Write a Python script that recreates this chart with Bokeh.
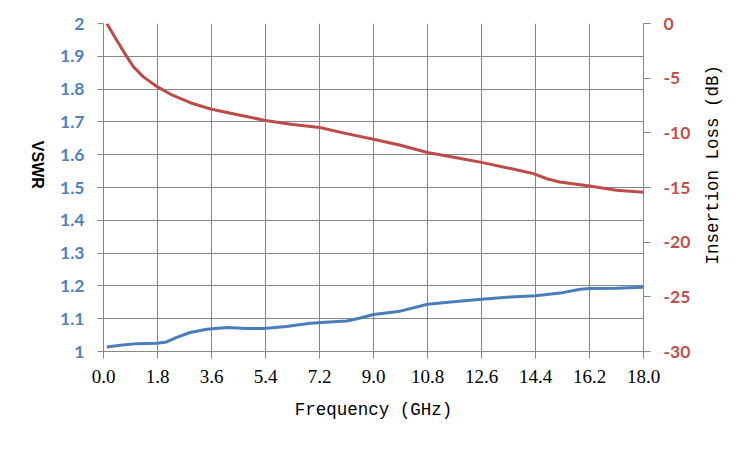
import math
from bokeh.plotting import figure
from bokeh.layouts import row
from bokeh.models import Range1d, LinearAxis, FixedTicker
from bokeh.core.properties import value
from bokeh.embed import file_html
from bokeh.resources import INLINE

# VSWR series (left axis)
vswr_freq = [0.11, 0.56, 1.11, 1.8, 2.1, 2.44, 2.89, 3.44, 4.11, 4.78, 5.33, 6.1,
             6.89, 7.67, 8.11, 8.56, 9.0, 9.89, 10.8, 11.67, 12.6, 13.56, 14.4,
             15.22, 15.89, 16.2, 17.1, 18.0]
vswr_vals = [1.0135, 1.019, 1.024, 1.025, 1.029, 1.043, 1.058, 1.068, 1.073, 1.070,
             1.070, 1.076, 1.086, 1.091, 1.093, 1.102, 1.113, 1.123, 1.144, 1.152,
             1.159, 1.166, 1.170, 1.178, 1.190, 1.192, 1.193, 1.196]

# Insertion loss series (right axis, dB)
il_freq = [0.11, 0.44, 0.78, 1.0, 1.33, 1.8, 2.3, 2.97, 3.6, 4.56, 5.4, 6.24, 7.2,
           8.1, 9.0, 9.9, 10.8, 11.9, 12.6, 13.57, 14.33, 14.78, 15.2, 16.2, 17.1, 18.0]
il_vals = [0.0, -1.53, -3.05, -3.97, -4.88, -5.8, -6.56, -7.32, -7.84, -8.39, -8.88,
           -9.21, -9.52, -10.07, -10.59, -11.14, -11.8, -12.35, -12.7, -13.27, -13.73,
           -14.2, -14.5, -14.86, -15.25, -15.44]

x_ticks = [0.0, 1.8, 3.6, 5.4, 7.2, 9.0, 10.8, 12.6, 14.4, 16.2, 18.0]
x_tick_labels = ["0.0", "1.8", "3.6", "5.4", "7.2", "9.0", "10.8", "12.6", "14.4", "16.2", "18.0"]
vswr_ticks = [1.0, 1.1, 1.2, 1.3, 1.4, 1.5, 1.6, 1.7, 1.8, 1.9, 2.0]
vswr_tick_labels = ["1", "1.1", "1.2", "1.3", "1.4", "1.5", "1.6", "1.7", "1.8", "1.9", "2"]
il_ticks = [-30, -25, -20, -15, -10, -5, 0]
il_tick_labels = ["-30", "-25", "-20", "-15", "-10", "-5", "0"]

x_title = "Frequency (GHz)"
left_title = "VSWR"
right_title = "Insertion Loss (dB)"

BLUE = "#4F81BD"
RED = "#C0504D"
BLUE_LINE = "#4A7EBB"
RED_LINE = "#BE4B48"
GRID = "#878787"

H = 434
LEFT_W = 50
MAIN_W = 645
RIGHT_W = 734 - LEFT_W - MAIN_W

p = figure(width=MAIN_W, height=H, output_backend="svg", toolbar_location=None,
           x_range=Range1d(0, 18), y_range=Range1d(1, 2),
           min_border_left=53, min_border_right=52, min_border_top=23, min_border_bottom=83)
p.outline_line_color = None
p.background_fill_color = "white"
p.border_fill_color = "white"

p.extra_y_ranges = {"il": Range1d(-30, 0)}

# x axis
xa = p.xaxis[0]
xa.ticker = FixedTicker(ticks=x_ticks)
xa.major_label_overrides = {t: l for t, l in zip(x_ticks, x_tick_labels)}
xa.axis_label = x_title
xa.axis_label_text_font = "Liberation Mono"
xa.axis_label_text_font_size = "17.5px"
xa.axis_label_text_font_style = "normal"
xa.axis_label_text_color = "#000000"
xa.axis_label_standoff = 14
xa.major_label_text_font = "Liberation Serif"
xa.major_label_text_font_size = "19px"
xa.major_label_text_color = "#000000"
xa.major_label_standoff = 11
xa.axis_line_color = GRID
xa.major_tick_line_color = GRID
xa.major_tick_out = 7
xa.major_tick_in = 0
xa.minor_tick_line_color = None

# left axis
ya = p.yaxis[0]
ya.ticker = FixedTicker(ticks=vswr_ticks)
ya.major_label_overrides = {t: l for t, l in zip(vswr_ticks, vswr_tick_labels)}
ya.major_label_text_font = "Lato"
ya.major_label_text_font_style = "bold"
ya.major_label_text_font_size = "17.5px"
ya.major_label_text_color = BLUE
ya.major_label_standoff = 13
ya.axis_line_color = GRID
ya.major_tick_line_color = GRID
ya.major_tick_out = 6
ya.major_tick_in = 0
ya.minor_tick_line_color = None

# right axis
ra = LinearAxis(y_range_name="il", ticker=FixedTicker(ticks=il_ticks))
ra.major_label_overrides = {t: l for t, l in zip(il_ticks, il_tick_labels)}
ra.major_label_text_font = "Lato"
ra.major_label_text_font_style = "bold"
ra.major_label_text_font_size = "17.5px"
ra.major_label_text_color = RED
ra.major_label_standoff = 13
ra.axis_line_color = GRID
ra.major_tick_line_color = GRID
ra.major_tick_out = 7
ra.major_tick_in = 0
ra.minor_tick_line_color = None
p.add_layout(ra, "right")

# grids
p.xgrid.ticker = FixedTicker(ticks=x_ticks)
p.ygrid.ticker = FixedTicker(ticks=vswr_ticks)
p.xgrid.grid_line_color = GRID
p.ygrid.grid_line_color = GRID
p.xgrid.grid_line_width = 1
p.ygrid.grid_line_width = 1

# data lines
p.line(vswr_freq, vswr_vals, line_color=BLUE_LINE, line_width=3, line_join="round")
p.line(il_freq, il_vals, line_color=RED_LINE, line_width=3, line_join="round", y_range_name="il")


def side_panel(width):
    f = figure(width=width, height=H, output_backend="svg", toolbar_location=None,
               x_range=Range1d(0, width), y_range=Range1d(H, 0),
               x_axis_location=None, y_axis_location=None, min_border=0)
    f.outline_line_color = None
    f.xgrid.visible = False
    f.ygrid.visible = False
    f.border_fill_color = "white"
    f.background_fill_color = "white"
    return f


# left title panel: text reads top to bottom
lf = side_panel(LEFT_W)
lf.text(x=[37], y=[187], text=[left_title], angle=-math.pi / 2,
        text_font=value("Liberation Sans"), text_font_style="bold",
        text_font_size="16px", text_color="#000000",
        text_align="center", text_baseline="middle")

# right title panel: text reads bottom to top
rf = side_panel(RIGHT_W)
rf.text(x=[712 - LEFT_W - MAIN_W], y=[187], text=[right_title], angle=math.pi / 2,
        text_font=value("Liberation Mono"), text_font_style="normal",
        text_font_size="17.5px", text_color="#000000",
        text_align="center", text_baseline="middle")

layout = row(lf, p, rf, spacing=0)

open("out.html", "w").write(file_html(layout, INLINE))
